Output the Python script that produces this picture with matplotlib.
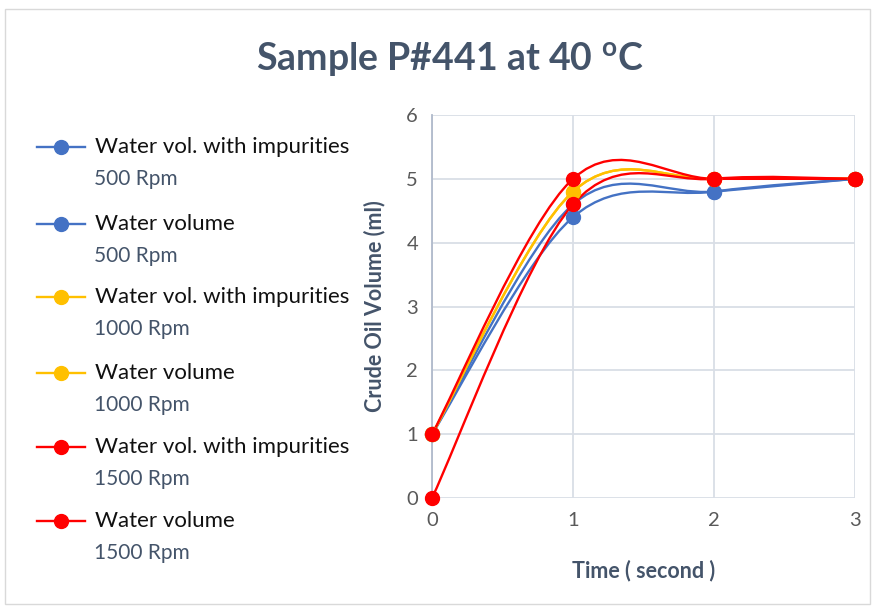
import matplotlib.pyplot as plt
import numpy as np
from matplotlib.path import Path
from matplotlib.patches import PathPatch, Rectangle
from matplotlib.lines import Line2D

plt.rcParams["font.family"] = ["Lato", "DejaVu Sans"]

time_s = [0, 1, 2, 3]
imp_500 = [1, 4.4, 4.8, 5]
vol_500 = [1, 4.6, 4.8, 5]
imp_1000 = [1, 4.8, 5, 5]
vol_1000 = [1, 4.8, 5, 5]
imp_1500 = [1, 5, 5, 5]
vol_1500 = [0, 4.6, 5, 5]

names = ["Water vol. with impurities", "Water volume"] * 3
speeds = ["500 Rpm", "500 Rpm", "1000 Rpm", "1000 Rpm", "1500 Rpm", "1500 Rpm"]
series = [imp_500, vol_500, imp_1000, vol_1000, imp_1500, vol_1500]
colors = ["#4472c4", "#4472c4", "#ffc000", "#ffc000", "#ff0000", "#ff0000"]


def smooth_path(x, y):
    # Excel-like smoothed line: cubic bezier with catmull-rom style handles
    p = np.column_stack([x, y]).astype(float)
    pts = [p[0]]
    codes = [Path.MOVETO]
    n = len(p)
    for i in range(n - 1):
        p0 = p[max(i - 1, 0)]
        p3 = p[min(i + 2, n - 1)]
        c1 = p[i] + (p[i + 1] - p0) / 6
        c2 = p[i + 1] - (p3 - p[i]) / 6
        pts += [c1, c2, p[i + 1]]
        codes += [Path.CURVE4] * 3
    return Path(pts, codes)


fig = plt.figure(figsize=(8.77, 6.09), dpi=100)
fig.add_artist(Rectangle((0.006, 0.008), 0.986, 0.978, transform=fig.transFigure,
                         fill=False, edgecolor="#d9d9d9", linewidth=1))

ax = fig.add_axes([432 / 877, 1 - 498 / 609, 423 / 877, 383 / 609])

for ys, c in zip(series, colors):
    ax.add_patch(PathPatch(smooth_path(time_s, ys), facecolor="none",
                           edgecolor=c, linewidth=1.7, zorder=3))
    ax.plot(time_s, ys, linestyle="none", marker="o", markersize=10,
            color=c, zorder=4, clip_on=False)

ax.set_xlim(0, 3)
ax.set_ylim(0, 6)
ax.set_xticks(time_s)
ax.set_yticks(range(0, 7))
ax.grid(True, color="#d9dee6", linewidth=1.3)
ax.set_axisbelow(True)
for s in ["top", "right", "bottom"]:
    ax.spines[s].set_visible(False)
ax.spines["left"].set_color("#b0bacb")
ax.spines["left"].set_linewidth(1.3)
ax.tick_params(length=0, labelsize=14.5, labelcolor="#595959", pad=10)
ax.set_xlabel("Time ( second )", fontsize=15.5, fontweight="bold", color="#44546a", labelpad=22)
ax.set_ylabel("Crude Oil Volume (ml)", fontsize=15.5, fontweight="bold", color="#44546a", labelpad=15)

fig.text(450 / 877, 1 - 60 / 609, "Sample P#441 at 40 $^{\\mathregular{o}}$C", ha="center",
         va="center", fontsize=27, fontweight="bold", color="#44546a")

row_y = [147, 224, 297, 373, 447, 521]
for name, spd, c, yy in zip(names, speeds, colors, row_y):
    fy = 1 - yy / 609
    fig.add_artist(Line2D([37 / 877, 85 / 877], [fy, fy], color=c, linewidth=1.7,
                          transform=fig.transFigure))
    fig.add_artist(Line2D([61 / 877], [fy], color=c, marker="o", markersize=10,
                          transform=fig.transFigure))
    fig.text(95 / 877, fy, name, fontsize=16, color="#111111", va="center", ha="left")
    fig.text(94 / 877, fy - 32 / 609, spd, fontsize=15, color="#44546a", va="center", ha="left")

fig.savefig("out.png", dpi=100)
